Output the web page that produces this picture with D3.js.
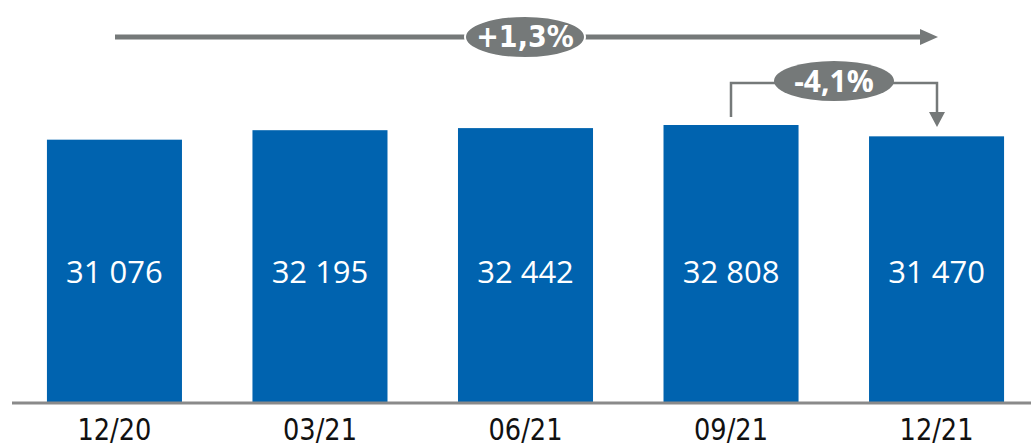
<!DOCTYPE html>
<html><head><meta charset="utf-8">
<script src="https://cdn.jsdelivr.net/npm/d3@7"></script>
<style>html,body{margin:0;padding:0;background:#fff;}svg{display:block;}</style>
</head><body>
<svg id="chart" width="1031" height="447"></svg>
<script>
const categories = ["12/20", "03/21", "06/21", "09/21", "12/21"];
const values = [31076, 32195, 32442, 32808, 31470];
const valueLabels = ["31 076", "32 195", "32 442", "32 808", "31 470"];
const totalChange = "+1,3%";
const lastChange = "-4,1%";

const svg = d3.select("#chart");
const blue = "#0063AF", gray = "#757979";
const axisY = 403;

const x = d3.scaleBand().domain(categories).range([12, 1039]).paddingInner(0.343).paddingOuter(0.17);
const y = d3.scaleLinear().domain([0, 32808]).range([axisY, 125]);

svg.selectAll("rect.bar").data(values).join("rect")
  .attr("class", "bar")
  .attr("x", (d, i) => x(categories[i]))
  .attr("y", d => y(d))
  .attr("width", x.bandwidth())
  .attr("height", d => axisY - y(d))
  .attr("fill", blue);

svg.selectAll("text.val").data(valueLabels).join("text")
  .attr("class", "val")
  .attr("x", (d, i) => x(categories[i]) + x.bandwidth() / 2)
  .attr("y", 283)
  .attr("text-anchor", "middle")
  .attr("fill", "#fff")
  .attr("font-family", "'Open Sans', sans-serif")
  .attr("font-size", 31)
  .text(d => d);

// axis
const xAxis = d3.axisBottom(x).tickSize(0).tickPadding(0);
const gx = svg.append("g").attr("transform", `translate(0,${axisY})`).call(xAxis);
gx.select(".domain").attr("d", `M12,0H1031`).attr("stroke", "#8a8a8a").attr("stroke-width", 3);
gx.selectAll(".tick text")
  .attr("y", 37)
  .attr("dy", 0)
  .attr("fill", "#111")
  .attr("font-family", "'DejaVu Sans Condensed', 'Liberation Sans Narrow', sans-serif")
  .attr("font-size", 30)
  .attr("textLength", 74)
  .attr("lengthAdjust", "spacingAndGlyphs");

// top arrow
const cx1 = 525, cy1 = 37;
svg.append("line").attr("x1", 115).attr("x2", 922).attr("y1", cy1).attr("y2", cy1)
  .attr("stroke", gray).attr("stroke-width", 5);
svg.append("path").attr("d", `M920,${cy1 - 8}L938,${cy1}L920,${cy1 + 8}Z`).attr("fill", gray);
svg.append("ellipse").attr("cx", cx1).attr("cy", cy1).attr("rx", 60).attr("ry", 21).attr("fill", gray)
  .attr("stroke", "#fff").attr("stroke-width", 2);
svg.append("text").attr("x", cx1).attr("y", cy1 + 10).attr("text-anchor", "middle")
  .attr("fill", "#fff").attr("font-family", "'Liberation Sans Narrow', 'DejaVu Sans Condensed', sans-serif")
  .attr("font-weight", "bold").attr("font-size", 30).text(totalChange);

// bracket arrow
const leftX = 731, rightX = 937, topY = 83;
svg.append("path").attr("d", `M${leftX},117V${topY}H775`).attr("fill", "none").attr("stroke", gray).attr("stroke-width", 2.5);
svg.append("path").attr("d", `M893,${topY}H${rightX}V113`).attr("fill", "none").attr("stroke", gray).attr("stroke-width", 2.5);
svg.append("path").attr("d", `M${rightX - 8},112L${rightX + 8},112L${rightX},127Z`).attr("fill", gray);
svg.append("ellipse").attr("cx", 834).attr("cy", 81).attr("rx", 60).attr("ry", 20).attr("fill", gray);
svg.append("text").attr("x", 834).attr("y", 92).attr("text-anchor", "middle")
  .attr("fill", "#fff").attr("font-family", "'Open Sans', sans-serif")
  .attr("font-weight", "bold").attr("font-size", 30).text(lastChange);
</script>
</body></html>
